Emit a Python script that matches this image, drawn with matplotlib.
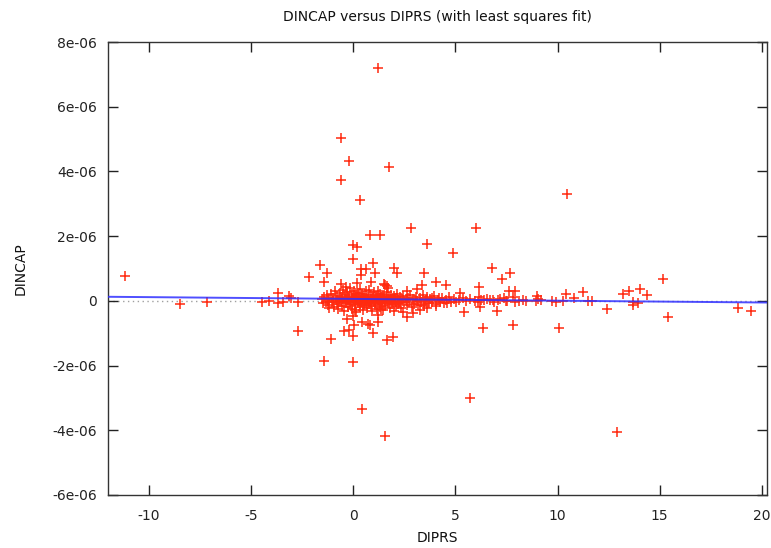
import matplotlib
matplotlib.use("Agg")
import matplotlib.pyplot as plt
from matplotlib.ticker import FuncFormatter, MultipleLocator
import numpy as np

# ---- data (DIPRS, DINCAP in units of 1e-6) ----
outlier_x = [1.19, -0.62, -0.23, -0.62, 1.77, 0.31, 10.47, 0.8, 1.29, 2.85, 6.0, 3.63,
             0.0, 0.2, 4.87, 0.0, -1.64, 0.99, -1.27, 0.36, 0.65, -2.18, -1.45, 0.85,
             1.09, 0.36, 2.02, 2.12, 3.44, -0.62, 2.65, 3.1, 3.38, -0.33, 0.2, 1.5,
             1.58, 1.65, 1.72,
             -11.17, -8.46, -7.16, -4.48, -4.14, -3.7, -3.7, -3.45, -3.16, -3.06, -2.72,
             -2.72, -1.08, -1.45, 0.0, -0.23, -0.45, 0.0, -0.28, 0.1, 0.45, 0.7, 0.99,
             1.67, 1.96, -1.2, 0.01, 0.06, 0.8, 1.19, 1.19, 1.34, 2.46, 2.65, 2.95, 3.63,
             3.29, 0.45, 1.58, 5.73, 12.9, 10.08,
             15.17, 13.2, 13.5, 14.04, 14.4, 13.68, 13.94, 13.68, 15.4, 12.4, 18.83, 19.46,
             10.42, 10.8, 11.25, 11.5, 11.7, 9.9, 9.73, 10.27, 9.2,
             4.07, 4.56, 6.17, 6.81, 7.3, 7.69, 5.24, 5.4, 6.22, 6.27, 7.06, 6.36, 7.84,
             9.0, 9.05, 7.6, 7.9, 7.84, 8.1, 8.45, 8.95, 6.17, 6.56, 6.86, 7.55, 7.94,
             8.3, 7.1, 7.4, 4.07, 3.44]
outlier_y = [7.2, 5.03, 4.32, 3.74, 4.14, 3.12, 3.3, 2.03, 2.03, 2.25, 2.25, 1.75,
             1.72, 1.66, 1.48, 1.29, 1.11, 1.17, 0.86, 0.99, 0.99, 0.74, 0.58, 0.58,
             0.86, 0.8, 1.02, 0.86, 0.86, 0.52, 0.31, 0.37, 0.49, 0.43, 0.55, 0.53,
             0.49, 0.45, 0.41,
             0.77, -0.1, -0.03, -0.03, 0.0, 0.24, -0.07, -0.03, 0.15, 0.09, -0.03,
             -0.93, -1.18, -1.86, -1.89, -0.9, -0.94, -1.1, -0.56, -0.28, -0.65, -0.71, -0.99,
             -1.21, -1.11, -0.22, -0.47, -0.75, -0.75, -0.44, -0.65, -0.25, -0.34, -0.5, -0.37, -0.22,
             -0.28, -3.35, -4.17, -3.0, -4.05, -0.84,
             0.67, 0.21, 0.31, 0.37, 0.18, -0.03, -0.07, -0.12, -0.5, -0.25, -0.22, -0.31,
             0.21, 0.09, 0.27, 0.0, 0.0, -0.03, 0.0, 0.0, 0.03,
             0.58, 0.49, 0.43, 1.02, 0.67, 0.86, 0.24, -0.34, -0.19, 0.03, -0.31, -0.84, -0.75,
             0.15, 0.06, 0.31, 0.31, 0.12, 0.0, 0.0, 0.0, 0.12, 0.06, 0.03, 0.0, -0.03,
             0.03, 0.03, 0.09, -0.16, -0.1]

core_x = [-1.52, -1.48, -1.41, -1.35, -1.30, -1.22, -1.18, -1.10, -1.05, -0.98, -0.95, -0.90,
          -0.86, -0.80, -0.77, -0.72, -0.69, -0.64, -0.60, -0.57, -0.53, -0.50, -0.46, -0.43,
          -0.40, -0.37, -0.33, -0.30, -0.27, -0.24, -0.20, -0.17, -0.14, -0.11, -0.08, -0.05,
          -0.02, 0.01, 0.04, 0.07, 0.10, 0.13, 0.16, 0.19, 0.22, 0.25, 0.28, 0.31, 0.34, 0.37,
          0.40, 0.43, 0.46, 0.49, 0.52, 0.55, 0.58, 0.61, 0.64, 0.67, 0.70, 0.73, 0.76, 0.79,
          0.82, 0.85, 0.88, 0.91, 0.94, 0.97, 1.00, 1.03, 1.06, 1.09, 1.12, 1.15, 1.18, 1.21,
          1.24, 1.27, 1.30, 1.33, 1.36, 1.39, 1.42, 1.45, 1.48, 1.52, 1.55, 1.58, 1.62, 1.66,
          1.70, 1.74, 1.78, 1.82, 1.86, 1.90, 1.94, 1.98, 2.02, 2.06, 2.10, 2.15, 2.20, 2.25,
          2.30, 2.35, 2.40, 2.45, 2.50, 2.56, 2.62, 2.68, 2.74, 2.80, 2.86, 2.92, 2.98, 3.05,
          3.12, 3.18, 3.25, 3.32, 3.40, 3.48, 3.55, 3.62, 3.70, 3.78, 3.86, 3.95, 4.05, 4.15,
          4.25, 4.35, 4.45, 4.55, 4.68, 4.80, 4.92, 5.05, 5.20, 5.35, 5.50, 5.70, 5.95, 6.10,
          6.40, 6.70, 6.90, 7.20, 7.50,
          -0.35, -0.15, 0.05, 0.25, 0.45, 0.65, 0.85, 1.05, 1.25, 1.45, 1.65, 1.85, 2.05, 2.28,
          0.15, 0.55, 0.95, 1.35, 1.75, -0.55, -0.25, 0.35, 0.75, 1.15, 1.95, 2.65, 3.0, 3.5,
          2.2, 0.6, -0.7, -1.0, -1.25, 3.85, 4.2, 4.6]
core_y = [0.05, -0.08, 0.12, -0.02, 0.18, -0.12, 0.03, 0.22, -0.05, 0.10, -0.18, 0.30,
          0.02, -0.10, 0.15, -0.25, 0.06, 0.25, -0.04, 0.12, -0.15, 0.35, 0.01, -0.30,
          0.18, 0.08, -0.07, 0.28, -0.20, 0.04, 0.14, -0.11, 0.40, 0.00, -0.26, 0.20,
          0.09, -0.03, 0.31, -0.14, 0.06, 0.17, -0.33, 0.02, 0.24, -0.08, 0.11, -0.19, 0.37, 0.04,
          -0.05, 0.21, -0.28, 0.08, 0.15, -0.12, 0.02, 0.29, -0.02, -0.22, 0.12, 0.05, -0.09, 0.33,
          0.00, -0.17, 0.19, 0.07, -0.30, 0.10, -0.04, 0.26, 0.03, -0.13, 0.16, -0.24, 0.06, 0.30,
          -0.06, 0.09, -0.18, 0.22, 0.01, -0.10, 0.13, -0.27, 0.05, 0.18, -0.02, -0.15, 0.08, 0.27,
          -0.07, 0.11, -0.21, 0.03, 0.17, -0.11, 0.06, -0.30, 0.14, 0.00, -0.16, 0.21, 0.04, -0.08,
          0.12, -0.23, 0.07, 0.16, -0.05, 0.02, -0.14, 0.10, -0.03, 0.19, -0.20, 0.05, -0.09, 0.13,
          0.01, -0.12, 0.08, -0.04, 0.18, -0.17, 0.03, 0.11, -0.07, 0.06, -0.02, 0.15, -0.10, 0.04,
          -0.03, 0.09, -0.06, 0.02, 0.12, -0.04, 0.06, -0.02, 0.03, 0.08, -0.01, 0.05, 0.01, -0.03,
          0.04, 0.02, -0.02, 0.06, 0.01,
          0.02, -0.03, 0.05, 0.01, -0.02, 0.07, 0.03, -0.06, 0.02, 0.08, -0.01, 0.05, 0.09, -0.02,
          0.12, 0.09, 0.14, 0.11, 0.04, 0.05, 0.10, -0.09, -0.05, 0.08, -0.05, 0.06, 0.03, 0.0,
          -0.1, -0.07, -0.02, 0.0, 0.07, 0.08, 0.1, -0.08]

# least squares fit (DINCAP = a + b*DIPRS)
fit_intercept = 6.0e-8
fit_slope = -5.5e-9

x_limits = [-12.0, 20.25]
y_limits = [-6e-6, 8e-6]

title_text = "DINCAP versus DIPRS (with least squares fit)"
x_label = "DIPRS"
y_label = "DINCAP"

xs = np.array(outlier_x + core_x)
ys = np.array(outlier_y + core_y) * 1e-6

fig = plt.figure(figsize=(7.71, 5.48), dpi=100)
ax = fig.add_axes([108/771, 1 - 495/548, (767-108)/771, (495-42)/548])

ax.axhline(0, color="#a0a0a0", lw=1.0, linestyle=(0, (1, 2.5)), zorder=1)
ax.plot(xs, ys, linestyle="none", marker="+", markersize=6.5, markeredgewidth=1.1,
        color="#ff2a10", zorder=2)
fx = np.array(x_limits)
ax.plot(fx, fit_intercept + fit_slope * fx, color="#3030ff", lw=1.4, alpha=0.85, zorder=3)

ax.set_xlim(*x_limits)
ax.set_ylim(*y_limits)
ax.xaxis.set_major_locator(MultipleLocator(5))
ax.yaxis.set_major_locator(MultipleLocator(2e-6))
ax.yaxis.set_major_formatter(FuncFormatter(lambda v, p: "0" if abs(v) < 1e-12 else "%g" % v))
ax.xaxis.set_major_formatter(FuncFormatter(lambda v, p: "%g" % v))

ax.tick_params(direction="in", length=7, width=1, top=True, right=True,
               labelsize=10, colors="#222222")
ax.tick_params(axis="x", pad=10)
ax.tick_params(axis="y", pad=8)
for s in ax.spines.values():
    s.set_color("#333333")
    s.set_linewidth(1)

ax.set_title(title_text, fontsize=10, pad=15, color="#111111")
ax.set_xlabel(x_label, fontsize=10, labelpad=6, color="#111111")
ax.set_ylabel(y_label, fontsize=10, labelpad=18, color="#111111")

fig.savefig("out.png", dpi=100)
